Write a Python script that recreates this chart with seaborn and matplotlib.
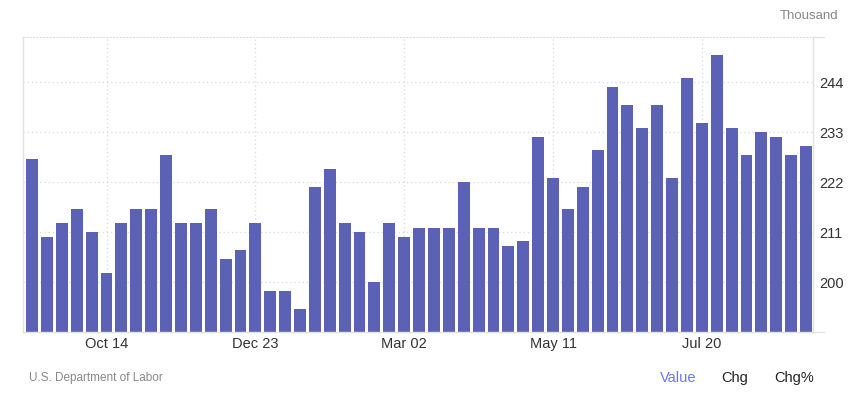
import pandas as pd
import seaborn as sns
import matplotlib.pyplot as plt

# weekly initial jobless claims, thousands
weeks = pd.date_range('2023-09-09', periods=53, freq='7D')
claims = [227, 210, 213, 216, 211, 202, 213, 216, 216, 228,
          213, 213, 216, 205, 207, 213, 198, 198, 194, 221,
          225, 213, 211, 200, 213, 210, 212, 212, 212, 222,
          212, 212, 208, 209, 232, 223, 216, 221, 229, 243,
          239, 234, 239, 223, 245, 235, 250, 234, 228, 233,
          232, 228, 230]
tick_labels = ['Oct 14', 'Dec 23', 'Mar 02', 'May 11', 'Jul 20']
y_ticks = [200, 211, 222, 233, 244]

bar_color = '#5b62b6'
grid_color = '#dddddd'
spine_color = '#e2e2e2'

df = pd.DataFrame({'week': weeks.strftime('%b %d'), 'claims': claims})

sns.set_style('white')
plt.rcParams['font.family'] = ['Liberation Sans', 'DejaVu Sans']

fig = plt.figure(figsize=(8.53, 3.96), dpi=100)
ax = fig.add_axes([23.5 / 853, 1 - 331.7 / 396, (813.3 - 23.5) / 853, (331.7 - 36.7) / 396])

sns.barplot(data=df, x='week', y='claims', color=bar_color, width=0.8,
            saturation=1, linewidth=0, ax=ax, zorder=2)

ax.set_ylim(189.1, 254)
ax.set_xlim(-0.58, len(claims) - 0.51)

tick_pos = [df.index[df['week'] == t][0] for t in tick_labels]
ax.set_xticks(tick_pos)
ax.set_xticklabels(tick_labels, fontsize=10.5, color='#333333')
ax.yaxis.tick_right()
ax.set_yticks(y_ticks)
ax.set_yticklabels([str(v) for v in y_ticks], fontsize=10.5, color='#333333')
ax.tick_params(axis='both', length=0)
ax.tick_params(axis='x', pad=4)
ax.tick_params(axis='y', pad=4)
ax.set_xlabel('')
ax.set_ylabel('')

ax.grid(True, axis='both', linestyle=(0, (1, 2)), color=grid_color, linewidth=1, zorder=0)
ax.set_axisbelow(True)

for side in ['left', 'bottom', 'right']:
    ax.spines[side].set_color(spine_color)
    ax.spines[side].set_linewidth(1)
ax.spines['top'].set_color(grid_color)
ax.spines['top'].set_linestyle((0, (1, 2)))

# short solid stubs past the right axis at top and bottom
for yy in [0, 1]:
    ax.plot([1, 1.013], [yy, yy], transform=ax.transAxes, color=spine_color,
            linewidth=1, clip_on=False)

fig.text(838 / 853, 1 - 16 / 396, 'Thousand', ha='right', va='center',
         fontsize=9.5, color='#888888')
fig.text(29 / 853, 1 - 378 / 396, 'U.S. Department of Labor', ha='left', va='center',
         fontsize=8.5, color='#888888')
fig.text(678 / 853, 1 - 378 / 396, 'Value', ha='center', va='center',
         fontsize=10.5, color='#6d76f0')
fig.text(735 / 853, 1 - 378 / 396, 'Chg', ha='center', va='center',
         fontsize=10.5, color='#222222')
fig.text(794 / 853, 1 - 378 / 396, 'Chg%', ha='center', va='center',
         fontsize=10.5, color='#222222')

fig.savefig('out.png', dpi=100)
